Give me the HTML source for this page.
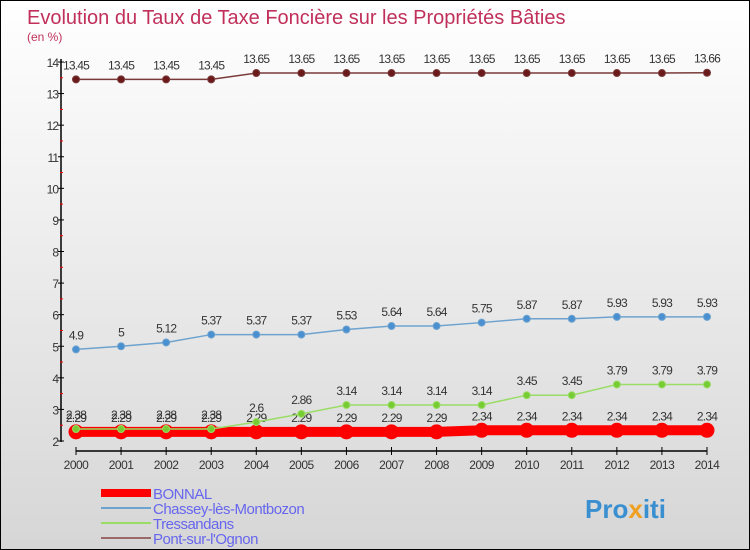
<!DOCTYPE html>
<html><head><meta charset="utf-8"><style>
body{margin:0}
#c{width:750px;height:550px;position:relative;box-sizing:border-box;border:1px solid #000;background:linear-gradient(#fff,#d6d6d6);font-family:"Liberation Sans",sans-serif;overflow:hidden}
</style></head><body>
<div id="c">
<svg id="s" width="750" height="550" style="position:absolute;left:0;top:0">
<text x="26" y="23" font-size="20" fill="#c0305a">Evolution du Taux de Taxe Foncière sur les Propriétés Bâties</text>
<text x="26" y="40" font-size="12" fill="#c0305a">(en %)</text>
<text x="584" y="517" font-size="26" font-weight="bold" fill="#3a8fd0">Pro<tspan fill="#f0a020">x</tspan>iti</text>
</svg>
</div>
<script>
const years=[2000,2001,2002,2003,2004,2005,2006,2007,2008,2009,2010,2011,2012,2013,2014];
const yTicks=[2,3,4,5,6,7,8,9,10,11,12,13,14];
const bonnal=[2.29,2.29,2.29,2.29,2.29,2.29,2.29,2.29,2.29,2.34,2.34,2.34,2.34,2.34,2.34];
const chassey=[4.9,5,5.12,5.37,5.37,5.37,5.53,5.64,5.64,5.75,5.87,5.87,5.93,5.93,5.93];
const tressandans=[2.38,2.38,2.38,2.38,2.6,2.86,3.14,3.14,3.14,3.14,3.45,3.45,3.79,3.79,3.79];
const pont=[13.45,13.45,13.45,13.45,13.65,13.65,13.65,13.65,13.65,13.65,13.65,13.65,13.65,13.65,13.66];
const names=["BONNAL","Chassey-lès-Montbozon","Tressandans","Pont-sur-l'Ognon"];
const svg=document.getElementById('s');const NS='http://www.w3.org/2000/svg';
const X=i=>75+i*(706-75)/(years.length-1);
const Y=v=>440-(v-2)*(440-61)/12;
function el(t,a,p){const e=document.createElementNS(NS,t);for(const k in a)e.setAttribute(k,a[k]);(p||svg).appendChild(e);return e;}
// axes
let ax=el('g',{});


el('line',{x1:60,y1:58,x2:60,y2:441,stroke:'#000','stroke-width':1.5},ax);
yTicks.forEach(v=>{el('line',{x1:57,x2:63,y1:Y(v),y2:Y(v),stroke:'#000'},ax);
 if(v<14)el('line',{x1:59,x2:62,y1:Y(v+0.5),y2:Y(v+0.5),stroke:'#f00'},ax);
 const t=el('text',{x:57,y:Y(v)+5,'text-anchor':'end','font-size':12,fill:'#333','letter-spacing':'-1'},ax);t.textContent=v;});
let xa=el('g',{});


el('line',{x1:75,y1:450,x2:706,y2:450,stroke:'#000','stroke-width':1.5},xa);
years.forEach((y,i)=>{el('line',{x1:X(i),x2:X(i),y1:446,y2:454,stroke:'#000'},xa);
 const t=el('text',{x:X(i),y:468,'text-anchor':'middle','font-size':12,fill:'#333','letter-spacing':'-0.5'},xa);t.textContent=y;});
function series(data,color,lw,r,fill,name){
 const g=el('g',{});
 
 
 el('polyline',{points:data.map((v,i)=>X(i)+','+Y(v)).join(' '),fill:'none',stroke:color,'stroke-width':lw},g);
 data.forEach((v,i)=>{const c=el('circle',{cx:X(i),cy:Y(v),r:r,fill:fill,stroke:color,'stroke-width':1},g);
  
  
  const t=el('text',{x:X(i),y:Y(v)-10,'text-anchor':'middle','font-size':12,fill:'#333','letter-spacing':'-0.8'},g);t.textContent=v;});
}
series(bonnal,'#f00',10,7,'#f00','series-bonnal');
series(chassey,'#6ea3cf',1.5,3.5,'#4a90d0','series-chassey');
series(tressandans,'#99dd66',1.5,3.5,'#77cc33','series-tressandans');
series(pont,'#7a3a3a',1.5,3.5,'#6a1a1a','series-pont');
const lc=['#f00','#6ea3cf','#99dd66','#9a6a6a'],lw=[8,2,2,2];
names.forEach((n,i)=>{const g=el('g',{});
 
 
 const y=492+i*15;
 el('line',{x1:100,x2:150,y1:y,y2:y,stroke:lc[i],'stroke-width':lw[i]},g);
 const t=el('text',{x:152,y:y+6,'font-size':15,fill:'#6666ee','letter-spacing':'-0.5'},g);t.textContent=n;});
</script>
</body></html>
